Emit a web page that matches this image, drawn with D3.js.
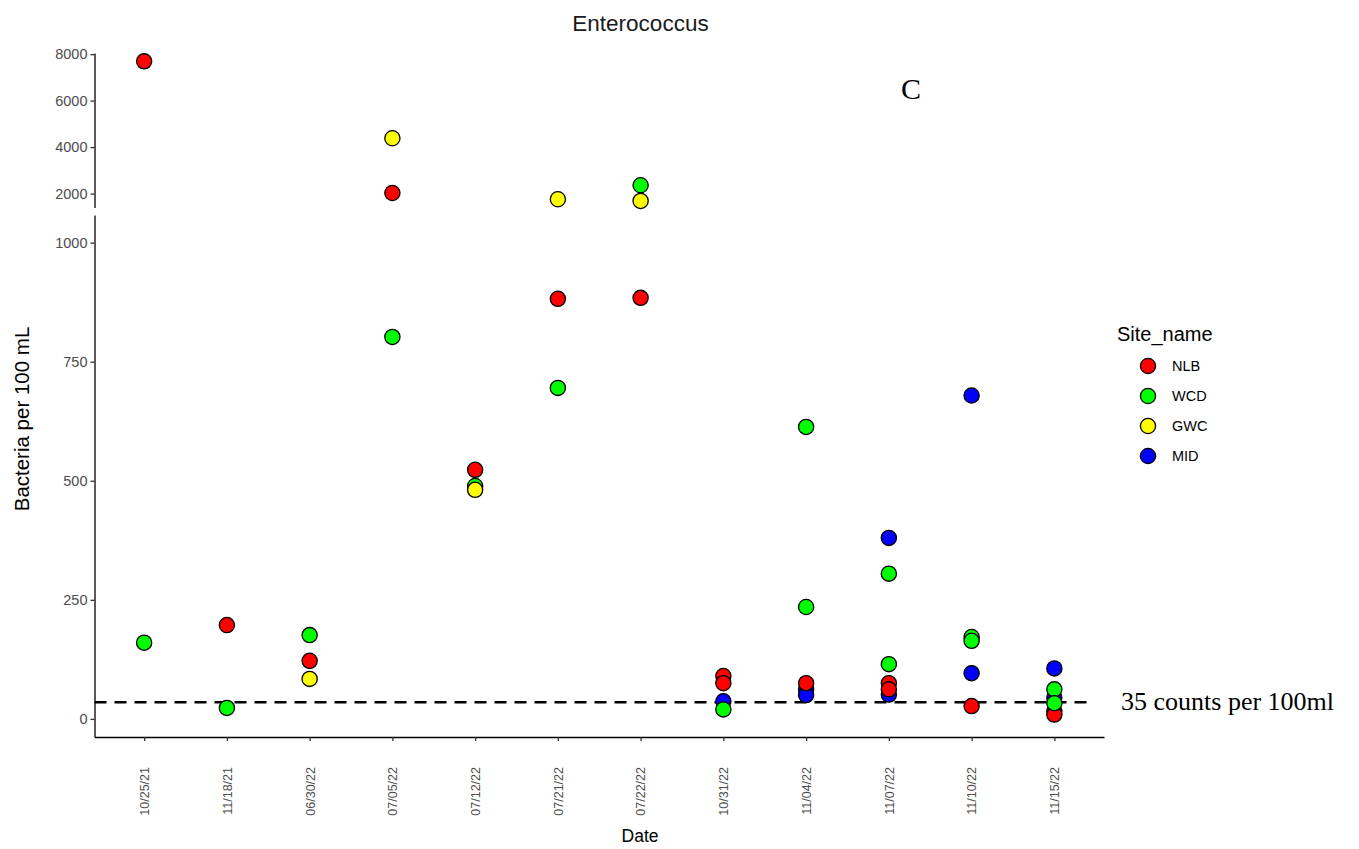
<!DOCTYPE html>
<html><head><meta charset="utf-8">
<script src="https://cdn.jsdelivr.net/npm/d3@7"></script>
<style>body{margin:0;background:#fff}</style>
</head><body>
<svg id="c" width="1359" height="849"></svg>
<script>
const dates = ["10/25/21","11/18/21","06/30/22","07/05/22","07/12/22","07/21/22","07/22/22","10/31/22","11/04/22","11/07/22","11/10/22","11/15/22"];
const sites = ["NLB","WCD","GWC","MID"];
const siteColors = ["#ff0000","#00ff00","#ffff00","#0000ff"];
const topTicks = [2000,4000,6000,8000];
const bottomTicks = [0,250,500,750,1000];
const threshold = 35;
const NLB = [["10/25/21",7690],["11/18/21",197],["06/30/22",122],["07/05/22",2025],["07/12/22",523],["07/21/22",882],["07/22/22",884],["10/31/22",90],["10/31/22",75],["11/04/22",75],["11/07/22",75],["11/07/22",62],["11/10/22",27],["11/15/22",16],["11/15/22",9]];
const WCD = [["10/25/21",160],["11/18/21",23],["06/30/22",176],["07/05/22",802],["07/12/22",489],["07/21/22",695],["07/22/22",2357],["10/31/22",20],["11/04/22",613],["11/04/22",235],["11/07/22",305],["11/07/22",115],["11/10/22",172],["11/10/22",164],["11/15/22",62],["11/15/22",33]];
const GWC = [["06/30/22",84],["07/05/22",4380],["07/12/22",481],["07/21/22",1755],["07/22/22",1682]];
const MID = [["10/31/22",37],["11/04/22",61],["11/04/22",50],["11/07/22",380],["11/07/22",51],["11/10/22",679],["11/10/22",96],["11/15/22",106],["11/15/22",45]];
const seriesBySite = {NLB, WCD, GWC, MID};
const drawOrder = ["MID","NLB","WCD","GWC"];

const svg = d3.select("#c");
const sans = "'Liberation Sans', Arial, sans-serif";
const serif = "'Liberation Serif', 'Times New Roman', serif";
const left = 94.5, right = 1104;
const x = d3.scalePoint().domain(dates).range([left, right]).padding(0.6);
const yTop = d3.scaleLinear().domain([1400, 8050]).range([207.5, 53]);
const yBot = d3.scaleLinear().domain([-38, 1058]).range([737, 215]);
const color = d3.scaleOrdinal().domain(sites).range(siteColors);
const splitAt = 1200;
const yOf = v => v > splitAt ? yTop(v) : yBot(v);

function styleAxis(g){
  g.select(".domain").attr("stroke","#000").attr("stroke-width",1.3);
  g.selectAll(".tick line").attr("stroke","#333").attr("stroke-width",1.3);
  g.selectAll(".tick text").attr("fill","#4d4d4d").attr("font-family",sans);
}
const fmt = d3.format("d");
// top y axis
const gTop = svg.append("g").attr("transform",`translate(${left},0)`)
  .call(d3.axisLeft(yTop).tickValues(topTicks).tickFormat(fmt).tickSize(4).tickSizeOuter(0).tickPadding(3));
styleAxis(gTop); gTop.selectAll(".tick text").attr("font-size",14.5);
// bottom y axis
const gBot = svg.append("g").attr("transform",`translate(${left},0)`)
  .call(d3.axisLeft(yBot).tickValues(bottomTicks).tickFormat(fmt).tickSize(4).tickSizeOuter(0).tickPadding(3));
styleAxis(gBot); gBot.selectAll(".tick text").attr("font-size",14.5);
// x axis
const gX = svg.append("g").attr("transform",`translate(0,737)`)
  .call(d3.axisBottom(x).tickSize(4).tickSizeOuter(0).tickPadding(0));
styleAxis(gX);
gX.selectAll(".tick text").attr("font-size",12.5)
  .attr("transform","translate(0,30) rotate(-90)")
  .attr("text-anchor","end").attr("dy","0.35em").attr("y",0).attr("x",0);

// threshold line
svg.append("line").attr("x1",left).attr("x2",1093)
  .attr("y1",yBot(threshold)).attr("y2",yBot(threshold))
  .attr("stroke","#000").attr("stroke-width",2.6).attr("stroke-dasharray","12,8");

// points
drawOrder.forEach(s=>{
  svg.append("g").selectAll("circle").data(seriesBySite[s]).join("circle")
    .attr("cx",d=>x(d[0])).attr("cy",d=>yOf(d[1])).attr("r",7.6)
    .attr("fill",color(s)).attr("stroke","#000").attr("stroke-width",1.3);
});

// texts
svg.append("text").attr("x",640.5).attr("y",31).attr("text-anchor","middle")
  .attr("font-family",sans).attr("font-size",22.5).attr("fill","#1a1a1a").text("Enterococcus");
svg.append("text").attr("x",911).attr("y",99).attr("text-anchor","middle")
  .attr("font-family",serif).attr("font-size",30).attr("fill","#000").text("C");
svg.append("text").attr("x",1121).attr("y",yBot(threshold)+8).attr("font-family",serif)
  .attr("font-size",26).attr("fill","#000").text("35 counts per 100ml");
svg.append("text").attr("transform","translate(29,419) rotate(-90)").attr("text-anchor","middle")
  .attr("font-family",sans).attr("font-size",20.5).attr("fill","#000").text("Bacteria per 100 mL");
svg.append("text").attr("x",640).attr("y",842).attr("text-anchor","middle")
  .attr("font-family",sans).attr("font-size",17.5).attr("fill","#000").text("Date");

// legend
const lg = svg.append("g");
lg.append("text").attr("x",1117).attr("y",341).attr("font-family",sans).attr("font-size",20)
  .attr("fill","#000").text("Site_name");
sites.forEach((s,i)=>{
  const cy = 366 + i*30;
  lg.append("circle").attr("cx",1148).attr("cy",cy).attr("r",7.6)
    .attr("fill",color(s)).attr("stroke","#000").attr("stroke-width",1.3);
  lg.append("text").attr("x",1172).attr("y",cy).attr("dy","0.35em").attr("font-family",sans)
    .attr("font-size",14.5).attr("fill","#000").text(s);
});
</script>
</body></html>
